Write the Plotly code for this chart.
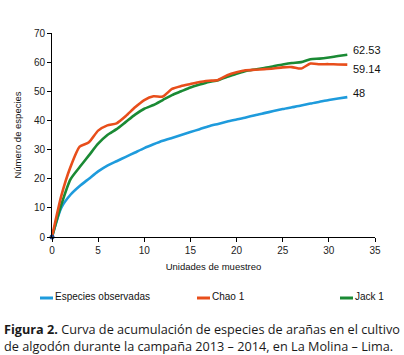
import plotly.graph_objects as go

x_units = list(range(0, 33))
observadas = [0, 10, 14.5, 17.5, 20, 22.5, 24.5, 26, 27.5, 29, 30.5, 31.8, 33, 34, 35, 36,
              37, 38, 38.8, 39.6, 40.3, 41, 41.8, 42.5, 43.2, 43.9, 44.5, 45.1, 45.8, 46.4,
              47, 47.5, 48]
chao1 = [0, 14, 24, 31, 32.5, 36.5, 38.3, 39, 41.5, 44.5, 47, 48.3, 48.2, 50.8, 51.8, 52.5,
         53.2, 53.6, 53.9, 55.5, 56.5, 57.2, 57.4, 57.6, 57.8, 58.2, 58.3, 57.8, 59.5, 59.3,
         59.3, 59.2, 59.14]
jack1 = [0, 11, 19.8, 24, 28, 32, 35, 37, 39.5, 42, 44, 45.3, 47, 48.7, 50, 51.3, 52.3,
         53.2, 53.8, 55, 56, 57, 57.5, 58, 58.6, 59.2, 59.7, 60, 61, 61.2, 61.6, 62.1, 62.53]

names = ["Especies observadas", "Chao 1", "Jack 1"]
colors = ["#1E9BDC", "#E84E1B", "#1A8A34"]
series = [observadas, chao1, jack1]

W, H = 404, 355
L, R, T, B = 52, 29, 33, 118
PW, PH = W - L - R, H - T - B


def px(xs):
    return (xs - L) / PW


def py(ys):
    return (H - B - ys) / PH


fig = go.Figure()
for idx in [0, 2, 1]:
    fig.add_trace(go.Scatter(x=x_units, y=series[idx], mode="lines", name=names[idx],
                             line=dict(color=colors[idx], width=2.6, shape="spline", smoothing=0.6),
                             showlegend=False))
fig.add_trace(go.Scatter(x=[x_units[0]], y=[observadas[0]], mode="markers",
                         marker=dict(color="#2B4A8A", size=5), showlegend=False, cliponaxis=False))

end_labels = [(observadas[-1], "48", 4), (chao1[-1], "59.14", -4), (jack1[-1], "62.53", 5)]
for val, txt, ys in end_labels:
    fig.add_annotation(x=x_units[-1], y=val, text=txt, showarrow=False, xanchor="left",
                       xshift=4, yshift=ys, font=dict(family="Arial, Liberation Sans", size=11, color="#111"))

# manual legend
legend_x = [40, 197, 340]
for x0, label, col in zip(legend_x, names, colors):
    fig.add_shape(type="line", xref="paper", yref="paper",
                  x0=px(x0), x1=px(x0 + 13), y0=py(298), y1=py(298),
                  line=dict(color=col, width=3))
    fig.add_annotation(xref="paper", yref="paper", x=px(x0 + 13), y=py(296),
                       text=label, showarrow=False, xanchor="left", yanchor="middle",
                       font=dict(family="Arial, Liberation Sans", size=10, color="#111"))

# caption
fig.add_annotation(xref="paper", yref="paper", x=px(2), y=py(318),
                   xanchor="left", yanchor="top", align="left", showarrow=False,
                   text="<b>Figura 2.</b> Curva de acumulación de especies de arañas en el cultivo<br>"
                        "de algodón durante la campaña 2013 – 2014, en La Molina – Lima.",
                   font=dict(family="Open Sans", size=12.7, color="#1a1a1a"))

axis_font = dict(family="Arial, Liberation Sans", size=10, color="#222")
title_font = dict(family="Arial, Liberation Sans", size=9.5, color="#111")
fig.update_layout(
    width=W, height=H,
    margin=dict(l=L, r=R, t=T, b=B),
    plot_bgcolor="white", paper_bgcolor="white",
    xaxis=dict(range=[0, 35], dtick=5, showgrid=False, zeroline=False, showline=True,
               linecolor="black", linewidth=1, ticks="outside", ticklen=4, tickcolor="black",
               tickfont=axis_font, automargin=False,
               title=dict(text="Unidades de muestreo", font=title_font, standoff=8)),
    yaxis=dict(range=[0, 70], dtick=10, showgrid=False, zeroline=False, showline=True,
               linecolor="black", linewidth=1, ticks="outside", ticklen=4, tickcolor="black",
               tickfont=axis_font, automargin=False,
               title=dict(text="Número de especies", font=title_font, standoff=10)),
)

fig.write_html("out.html", config={"displayModeBar": False},
               post_script="document.body.style.margin='0px';")
